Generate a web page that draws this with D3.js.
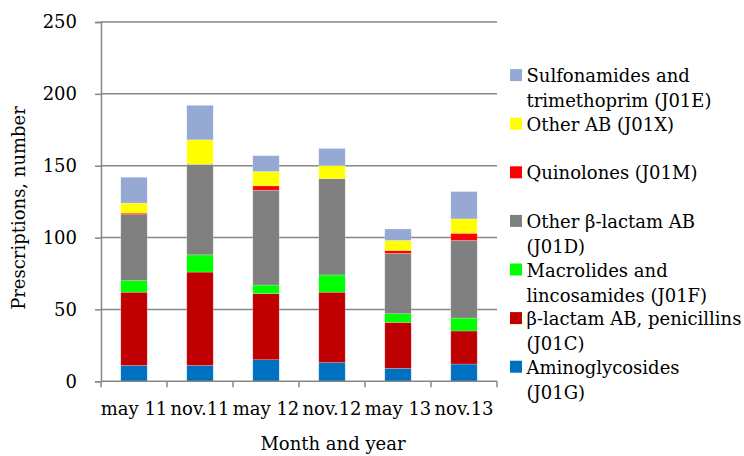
<!DOCTYPE html>
<html>
<head>
<meta charset="utf-8">
<script src="https://cdn.jsdelivr.net/npm/d3@7"></script>
<style>
  body { margin: 0; background: #fff; }
  text { font-family: "DejaVu Serif", serif; fill: #000; }
</style>
</head>
<body>
<div id="chart"></div>
<script>
const categories = ["may 11", "nov.11", "may 12", "nov.12", "may 13", "nov.13"];

// stacked from bottom to top
const aminoglycosides = [11, 11, 15, 13, 9, 12];
const penicillins     = [51, 65, 46, 49, 32, 23];
const macrolides      = [8, 12, 6, 12, 6, 9];
const otherBetaLactam = [46, 63, 66, 67, 42, 54];
const quinolones      = [1, 0, 3, 0, 2, 5];
const otherAB         = [7, 17, 10, 9, 7, 10];
const sulfonamides    = [18, 24, 11, 12, 8, 19];

const seriesNames = [
    ["Aminoglycosides", "(J01G)"],
    ["β-lactam AB, penicillins", "(J01C)"],
    ["Macrolides and", "lincosamides (J01F)"],
    ["Other β-lactam AB", "(J01D)"],
    ["Quinolones (J01M)"],
    ["Other AB (J01X)"],
    ["Sulfonamides and", "trimethoprim (J01E)"]
];
const seriesValues = [aminoglycosides, penicillins, macrolides, otherBetaLactam, quinolones, otherAB, sulfonamides];
const seriesColors = ["#0070C0", "#C00000", "#00FF00", "#808080", "#FF0000", "#FFFF00", "#95A9D2"];

const yTicks = [0, 50, 100, 150, 200, 250];

const width = 744, height = 456;
const margin = { top: 22, left: 101, right: 497, bottom: 381.3 };
const axisColor = "#868686";
const fontSize = 18;

const svg = d3.select("#chart").append("svg")
    .attr("width", width)
    .attr("height", height);

const xScale = d3.scaleBand()
    .domain(categories)
    .range([margin.left, margin.right])
    .paddingInner(0.6)
    .paddingOuter(0.3);

const yScale = d3.scaleLinear()
    .domain([0, 250])
    .range([margin.bottom, margin.top]);

// gridlines
svg.append("g")
    .selectAll("line")
    .data(yTicks.slice(1))
    .enter()
    .append("line")
    .attr("x1", margin.left)
    .attr("x2", margin.right)
    .attr("y1", d => yScale(d))
    .attr("y2", d => yScale(d))
    .attr("stroke", axisColor)
    .attr("stroke-width", 1.5);

// stacked bars
const table = categories.map((c, i) => {
    const row = { cat: c };
    seriesValues.forEach((s, k) => row["s" + k] = s[i]);
    return row;
});
const stack = d3.stack().keys(seriesValues.map((s, k) => "s" + k));
const layers = stack(table);

svg.append("g")
    .selectAll("g")
    .data(layers)
    .enter()
    .append("g")
    .attr("fill", (d, k) => seriesColors[k])
    .selectAll("rect")
    .data(d => d)
    .enter()
    .append("rect")
    .attr("x", d => xScale(d.data.cat))
    .attr("width", xScale.bandwidth())
    .attr("y", d => yScale(d[1]))
    .attr("height", d => yScale(d[0]) - yScale(d[1]))
    .attr("stroke", "#ffffff")
    .attr("stroke-opacity", 0.35)
    .attr("stroke-width", 0.6);

// y axis
const yAxis = d3.axisLeft(yScale)
    .tickValues(yTicks)
    .tickSize(6)
    .tickPadding(18);
const yG = svg.append("g")
    .attr("transform", `translate(${margin.left}, 0)`)
    .call(yAxis);
yG.select(".domain").attr("stroke", axisColor).attr("stroke-width", 1.5);
yG.selectAll(".tick line").attr("stroke", axisColor).attr("stroke-width", 1.5);
yG.selectAll(".tick text").attr("font-size", fontSize);

// x axis: labels at band centres, ticks at band boundaries
const xAxis = d3.axisBottom(xScale).tickSize(0).tickPadding(21);
const xG = svg.append("g")
    .attr("transform", `translate(0, ${margin.bottom})`)
    .call(xAxis);
xG.select(".domain").remove();
xG.selectAll(".tick text").attr("font-size", fontSize);

const boundary = d3.scaleLinear().domain([0, categories.length]).range([margin.left, margin.right]);
const xLine = svg.append("g").attr("transform", `translate(0, ${margin.bottom})`);
xLine.append("line")
    .attr("x1", margin.left).attr("x2", margin.right)
    .attr("stroke", axisColor).attr("stroke-width", 1.5);
xLine.selectAll(".bt")
    .data(d3.range(categories.length + 1))
    .enter()
    .append("line")
    .attr("x1", d => boundary(d)).attr("x2", d => boundary(d))
    .attr("y1", 0).attr("y2", 6)
    .attr("stroke", axisColor).attr("stroke-width", 1.5);

// axis titles
svg.append("text")
    .attr("x", 333)
    .attr("y", 450)
    .attr("text-anchor", "middle")
    .attr("font-size", fontSize)
    .text("Month and year");

svg.append("text")
    .attr("transform", "translate(25, 208) rotate(-90)")
    .attr("text-anchor", "middle")
    .attr("font-size", fontSize)
    .text("Prescriptions, number");

// legend (top entry = last series)
const legend = svg.append("g");
const legendRows = seriesNames.map((n, k) => ({ lines: n, color: seriesColors[k], k }));
const entry = legend.selectAll("g")
    .data(legendRows)
    .enter()
    .append("g")
    .attr("transform", d => `translate(510, ${366.7 - d.k * 48.6})`);
entry.append("rect")
    .attr("x", 0).attr("y", -6)
    .attr("width", 12).attr("height", 12)
    .attr("fill", d => d.color);
entry.append("text")
    .attr("x", 16.5)
    .attr("y", 7)
    .attr("font-size", fontSize)
    .selectAll("tspan")
    .data(d => d.lines)
    .enter()
    .append("tspan")
    .attr("x", 16.5)
    .attr("dy", (d, i) => i === 0 ? 0 : 25)
    .text(d => d);
</script>
</body>
</html>
